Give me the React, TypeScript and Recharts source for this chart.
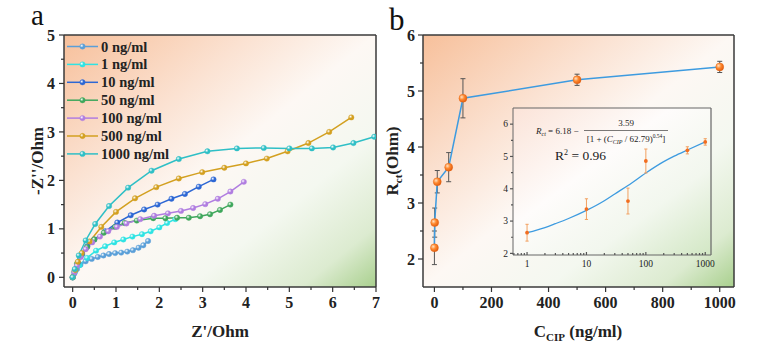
import React from 'react';
import { LineChart, Line, XAxis, YAxis, CartesianGrid, ErrorBar, ReferenceLine } from 'recharts';

const FONT = "'Liberation Serif', 'Times New Roman', serif";

// (a) Nyquist plots: [Z', -Z''] in Ohm
const seriesNames = ['0 ng/ml', '1 ng/ml', '10 ng/ml', '50 ng/ml', '100 ng/ml', '500 ng/ml', '1000 ng/ml'];
const seriesColors = ['#5a9fd8', '#2fe3e3', '#2d67d4', '#3fa75c', '#b07de0', '#d3a020', '#2fbfc6'];

const nyq0 = [[0, 0], [0.04, 0.08], [0.1, 0.17], [0.18, 0.26], [0.3, 0.33], [0.44, 0.38], [0.58, 0.42], [0.71, 0.45], [0.84, 0.48], [0.98, 0.5], [1.12, 0.51], [1.26, 0.53], [1.39, 0.56], [1.52, 0.61], [1.63, 0.66], [1.74, 0.75]];
const nyq1 = [[0, 0], [0.06, 0.12], [0.16, 0.25], [0.33, 0.4], [0.54, 0.55], [0.75, 0.64], [0.96, 0.72], [1.17, 0.78], [1.38, 0.84], [1.6, 0.89], [1.8, 0.95], [2.0, 1.03], [2.18, 1.12], [2.37, 1.2]];
const nyq10 = [[0, 0], [0.05, 0.15], [0.12, 0.3], [0.22, 0.48], [0.34, 0.64], [0.5, 0.78], [0.75, 0.95], [1.03, 1.13], [1.34, 1.28], [1.65, 1.4], [1.96, 1.5], [2.28, 1.62], [2.59, 1.72], [2.91, 1.87], [3.25, 2.02]];
const nyq50 = [[0, 0], [0.04, 0.12], [0.1, 0.28], [0.2, 0.46], [0.33, 0.62], [0.5, 0.78], [0.72, 0.92], [0.98, 1.04], [1.2, 1.12], [1.48, 1.17], [1.86, 1.22], [2.14, 1.22], [2.41, 1.23], [2.68, 1.23], [2.94, 1.26], [3.17, 1.3], [3.4, 1.39], [3.64, 1.5]];
const nyq100 = [[0, 0], [0.04, 0.1], [0.1, 0.24], [0.19, 0.42], [0.3, 0.58], [0.45, 0.72], [0.63, 0.84], [0.82, 0.95], [1.02, 1.04], [1.24, 1.11], [1.56, 1.2], [1.88, 1.27], [2.2, 1.32], [2.5, 1.37], [2.78, 1.43], [3.06, 1.51], [3.35, 1.62], [3.64, 1.77], [3.95, 1.97]];
const nyq500 = [[0, 0], [0.06, 0.15], [0.12, 0.32], [0.21, 0.5], [0.39, 0.74], [0.66, 1.04], [1.0, 1.35], [1.44, 1.63], [1.93, 1.86], [2.45, 2.04], [2.99, 2.17], [3.5, 2.26], [4.0, 2.35], [4.48, 2.45], [4.96, 2.6], [5.44, 2.77], [5.92, 3.0], [6.43, 3.3]];
const nyq1000 = [[0, 0], [0.05, 0.17], [0.14, 0.45], [0.3, 0.76], [0.52, 1.1], [0.84, 1.47], [1.28, 1.85], [1.82, 2.2], [2.45, 2.44], [3.11, 2.6], [3.79, 2.66], [4.41, 2.67], [5.0, 2.66], [5.52, 2.66], [6.01, 2.68], [6.48, 2.77], [6.96, 2.9]];
const nyquist = [nyq0, nyq1, nyq10, nyq50, nyq100, nyq500, nyq1000];

const zReTicks = [0, 0.5, 1, 1.5, 2, 2.5, 3, 3.5, 4, 4.5, 5, 5.5, 6, 6.5, 7];
const zReMajors = [0, 1, 2, 3, 4, 5, 6, 7];
const zImTicks = [0, 0.5, 1, 1.5, 2, 2.5, 3, 3.5, 4, 4.5, 5];
const zImMajors = [0, 1, 2, 3, 4, 5];
const zReDomain = [-0.2, 7];
const zImDomain = [-0.2, 5];

// (b) Rct vs CIP concentration
const cip = [0, 1, 10, 50, 100, 500, 1000];
const rct = [2.2, 2.65, 3.38, 3.64, 4.87, 5.2, 5.43];
const rctErr = [0.3, 0.26, 0.2, 0.26, 0.35, 0.1, 0.1];
const cipTicks = [0, 100, 200, 300, 400, 500, 600, 700, 800, 900, 1000];
const cipMajors = [0, 200, 400, 600, 800, 1000];
const rctTicks = [2, 2.5, 3, 3.5, 4, 4.5, 5, 5.5, 6];
const rctMajors = [2, 3, 4, 5, 6];
const cipDomain = [-40, 1050];
const rctDomain = [1.5, 6];

// inset: log scale with fitted curve
const insetConc = [1, 10, 50, 100, 500, 1000];
const insetR = [2.64, 3.37, 3.62, 4.86, 5.19, 5.45];
const insetErr = [0.26, 0.32, 0.4, 0.37, 0.11, 0.1];
const fitConc = [1, 2, 3, 5, 10, 20, 30, 50, 100, 200, 300, 500, 1000];
const fitR = [2.64, 2.8, 2.92, 3.08, 3.33, 3.63, 3.84, 4.1, 4.49, 4.84, 5.01, 5.2, 5.45];
const logTicks = [0.6, 0.7, 0.8, 0.9, 1, 2, 3, 4, 5, 6, 7, 8, 9, 10, 20, 30, 40, 50, 60, 70, 80, 90, 100, 200, 300, 400, 500, 600, 700, 800, 900, 1000];
const logMajors = [1, 10, 100, 1000];
const insetYTicks = [2, 2.5, 3, 3.5, 4, 4.5, 5, 5.5, 6];
const insetYMajors = [2, 3, 4, 5, 6];
const logDomain = [0.58, 1250];
const insetYDomain = [1.95, 6.5];

const bData = cip.map((c, i) => ({ c, r: rct[i], e: rctErr[i] }));
const insetData = insetConc.map((c, i) => ({ c, r: insetR[i], e: insetErr[i] }));
const fitData = fitConc.map((c, i) => ({ c, r: fitR[i] }));

type TickOpts = {
  side: 'bottom' | 'left';
  majors: number[];
  len: number;
  minorLen: number;
  gap: number;
  size: number;
  bold?: boolean;
  inward?: boolean;
  color: string;
};

function makeTick(o: TickOpts) {
  return (props: any) => {
    const { x, y, payload } = props;
    const v = payload.value;
    const major = o.majors.includes(v);
    const l = major ? o.len : o.minorLen;
    const s = o.inward ? -1 : 1;
    const txt = major ? String(v) : '';
    if (o.side === 'bottom') {
      return (
        <g>
          <line x1={x} x2={x} y1={y} y2={y + s * l} stroke={o.color} strokeWidth={1.2} />
          {txt && (
            <text x={x} y={y + o.gap} textAnchor="middle" fontSize={o.size} fontWeight={o.bold ? 700 : 400} fontFamily={FONT} fill="#222">
              {txt}
            </text>
          )}
        </g>
      );
    }
    return (
      <g>
        <line x1={x} x2={x - s * l} y1={y} y2={y} stroke={o.color} strokeWidth={1.2} />
        {txt && (
          <text x={x - o.gap} y={y} dy="0.35em" textAnchor="end" fontSize={o.size} fontWeight={o.bold ? 700 : 400} fontFamily={FONT} fill="#222">
            {txt}
          </text>
        )}
      </g>
    );
  };
}

const frame = { stroke: '#3a3a3a', strokeWidth: 1.5 };
const insetFrame = { stroke: '#666', strokeWidth: 1 };

export default function App() {
  return (
    <div style={{ position: 'absolute', left: 0, top: 0, width: 773, height: 356, background: '#fff', fontFamily: FONT }}>
      <svg width={0} height={0} style={{ position: 'absolute' }}>
        <defs>
          <linearGradient id="bgMain" x1="0" y1="0" x2="1" y2="1">
            <stop offset="0" stopColor="#f7c09b" />
            <stop offset="0.3" stopColor="#fbe2d2" />
            <stop offset="0.5" stopColor="#fdf8f4" />
            <stop offset="0.7" stopColor="#f4f8f0" />
            <stop offset="0.88" stopColor="#dcebd0" />
            <stop offset="1" stopColor="#a9d08e" />
          </linearGradient>
          <linearGradient id="bgInset" x1="0" y1="0" x2="1" y2="1">
            <stop offset="0" stopColor="#fbe3d8" />
            <stop offset="0.4" stopColor="#fefcfb" />
            <stop offset="0.7" stopColor="#f2f7ee" />
            <stop offset="1" stopColor="#d2e7c4" />
          </linearGradient>
          <radialGradient id="ballOrange" cx="35%" cy="35%" r="70%">
            <stop offset="0" stopColor="#ffe2c4" />
            <stop offset="0.45" stopColor="#ff8a30" />
            <stop offset="1" stopColor="#e25a0c" />
          </radialGradient>
          {seriesColors.map((c, i) => (
            <radialGradient key={i} id={`ball${i}`} cx="35%" cy="35%" r="70%">
              <stop offset="0" stopColor="#ffffff" />
              <stop offset="0.5" stopColor={c} />
              <stop offset="1" stopColor={c} />
            </radialGradient>
          ))}
        </defs>
      </svg>

      {/* panel a */}
      <div style={{ position: 'absolute', left: 0, top: 0 }}>
        <LineChart width={380} height={356} margin={{ top: 35, right: 4, bottom: 0, left: 0 }}>
          <CartesianGrid horizontal={false} vertical={false} fill="url(#bgMain)" stroke="none" />
          <XAxis
            type="number"
            dataKey="x"
            domain={zReDomain}
            allowDataOverflow
            ticks={zReTicks}
            interval={0}
            height={69}
            tickSize={0}
            tickMargin={0}
            tickLine={false}
            axisLine={frame}
            tick={makeTick({ side: 'bottom', majors: zReMajors, len: 5, minorLen: 3, gap: 21, size: 16, bold: true, color: '#333' })}
          />
          <YAxis
            type="number"
            domain={zImDomain}
            allowDataOverflow
            ticks={zImTicks}
            interval={0}
            width={64}
            tickSize={0}
            tickMargin={0}
            tickLine={false}
            axisLine={frame}
            tick={makeTick({ side: 'left', majors: zImMajors, len: 5, minorLen: 3, gap: 9, size: 16, bold: true, color: '#333' })}
          />
          <ReferenceLine y={zImDomain[1]} stroke="#3a3a3a" strokeWidth={1.5} ifOverflow="visible" />
          <ReferenceLine x={zReDomain[1]} stroke="#3a3a3a" strokeWidth={1.5} ifOverflow="visible" />
          {nyquist.map((pts, i) => (
            <Line
              key={seriesNames[i]}
              name={seriesNames[i]}
              data={pts.map(([x, y]) => ({ x, y }))}
              dataKey="y"
              type="linear"
              stroke={seriesColors[i]}
              strokeWidth={1.5}
              isAnimationActive={false}
              dot={(p: any) => <circle key={p.index} cx={p.cx} cy={p.cy} r={2.7} fill={`url(#ball${i})`} stroke={seriesColors[i]} strokeWidth={0.4} />}
              activeDot={false}
            />
          ))}
        </LineChart>
      </div>

      {/* panel b */}
      <div style={{ position: 'absolute', left: 380, top: 0 }}>
        <LineChart width={393} height={356} data={bData} margin={{ top: 35, right: 39, bottom: 0, left: 0 }}>
          <CartesianGrid horizontal={false} vertical={false} fill="url(#bgMain)" stroke="none" />
          <XAxis
            type="number"
            dataKey="c"
            domain={cipDomain}
            allowDataOverflow
            ticks={cipTicks}
            interval={0}
            height={69}
            tickSize={0}
            tickMargin={0}
            tickLine={false}
            axisLine={frame}
            tick={makeTick({ side: 'bottom', majors: cipMajors, len: 5, minorLen: 3, gap: 21, size: 16, bold: true, color: '#333' })}
          />
          <YAxis
            type="number"
            domain={rctDomain}
            allowDataOverflow
            ticks={rctTicks}
            interval={0}
            width={43}
            tickSize={0}
            tickMargin={0}
            tickLine={false}
            axisLine={frame}
            tick={makeTick({ side: 'left', majors: rctMajors, len: 5, minorLen: 3, gap: 8, size: 16, bold: true, color: '#333' })}
          />
          <ReferenceLine y={rctDomain[1]} stroke="#3a3a3a" strokeWidth={1.5} ifOverflow="visible" />
          <ReferenceLine x={cipDomain[1]} stroke="#3a3a3a" strokeWidth={1.5} ifOverflow="visible" />
          <Line
            dataKey="r"
            type="linear"
            stroke="#3d9be0"
            strokeWidth={1.5}
            isAnimationActive={false}
            activeDot={false}
            dot={(p: any) => <circle key={p.index} cx={p.cx} cy={p.cy} r={4} fill="url(#ballOrange)" stroke="#e0600f" strokeWidth={0.4} />}
          >
            <ErrorBar dataKey="e" direction="y" width={2.5} stroke="#555" strokeWidth={1} isAnimationActive={false} />
          </Line>
        </LineChart>
      </div>

      {/* inset */}
      <div style={{ position: 'absolute', left: 480, top: 100 }}>
        <LineChart width={240} height={180} margin={{ top: 8, right: 9, bottom: 0, left: 0 }}>
          <CartesianGrid horizontal={false} vertical={false} fill="url(#bgInset)" stroke="none" />
          <XAxis
            type="number"
            scale="log"
            dataKey="c"
            domain={logDomain}
            allowDataOverflow
            ticks={logTicks}
            interval={0}
            height={25}
            tickSize={0}
            tickMargin={0}
            tickLine={false}
            axisLine={insetFrame}
            tick={makeTick({ side: 'bottom', majors: logMajors, len: 3, minorLen: 2, gap: 11.5, size: 9.5, inward: true, color: '#555' })}
          />
          <YAxis
            type="number"
            domain={insetYDomain}
            allowDataOverflow
            ticks={insetYTicks}
            interval={0}
            width={33}
            tickSize={0}
            tickMargin={0}
            tickLine={false}
            axisLine={insetFrame}
            tick={makeTick({ side: 'left', majors: insetYMajors, len: 3, minorLen: 2, gap: 5, size: 9.5, color: '#555' })}
          />
          <ReferenceLine y={insetYDomain[1]} stroke="#666" strokeWidth={1.2} ifOverflow="visible" />
          <ReferenceLine x={logDomain[1]} stroke="#666" strokeWidth={1.2} ifOverflow="visible" />
          <Line data={fitData} dataKey="r" type="monotone" stroke="#3d9be0" strokeWidth={1.3} dot={false} activeDot={false} isAnimationActive={false} />
          <Line
            data={insetData}
            dataKey="r"
            stroke="none"
            isAnimationActive={false}
            activeDot={false}
            dot={(p: any) => <circle key={p.index} cx={p.cx} cy={p.cy} r={1.9} fill="#f26d1f" />}
          >
            <ErrorBar dataKey="e" direction="y" width={1.6} stroke="#f2a060" strokeWidth={1} isAnimationActive={false} />
          </Line>
        </LineChart>
      </div>

      {/* text overlay: panel letters, axis titles, legend, formula */}
      <svg width={773} height={356} style={{ position: 'absolute', left: 0, top: 0, pointerEvents: 'none' }} fontFamily={FONT}>
        <text x={31} y={25} fontSize={29} fill="#111">a</text>
        <text x={389} y={30} fontSize={31} fill="#111">b</text>

        <text transform="translate(43,161) rotate(-90)" textAnchor="middle" fontSize={17} fontWeight={700} fill="#222">-Z''/Ohm</text>
        <text x={220} y={337} textAnchor="middle" fontSize={17} fontWeight={700} fill="#222">Z'/Ohm</text>

        <text transform="translate(398,161) rotate(-90)" textAnchor="middle" fontSize={17} fontWeight={700} fill="#222">
          R<tspan fontSize={11} dy={4}>ct</tspan><tspan dy={-4}>(Ohm)</tspan>
        </text>
        <text x={578} y={337} textAnchor="middle" fontSize={17} fontWeight={700} fill="#222">
          C<tspan fontSize={11} dy={4}>CIP</tspan><tspan dy={-4}> (ng/ml)</tspan>
        </text>

        {seriesNames.map((n, i) => {
          const cy = 46.5 + i * 17.9;
          return (
            <g key={n}>
              <line x1={67} x2={98} y1={cy} y2={cy} stroke={seriesColors[i]} strokeWidth={1.5} />
              <circle cx={82.5} cy={cy} r={2.7} fill={`url(#ball${i})`} stroke={seriesColors[i]} strokeWidth={0.4} />
              <text x={101} y={cy + 5} fontSize={14.5} fontWeight={700} fill="#222">{n}</text>
            </g>
          );
        })}

        <text x={536} y={134} fontSize={9} fill="#222">
          <tspan fontStyle="italic">R</tspan>
          <tspan fontStyle="italic" fontSize={6} dy={2}>ct</tspan>
          <tspan dy={-2}> = 6.18 − </tspan>
        </text>
        <text x={626} y={126} fontSize={9} textAnchor="middle" fill="#222">3.59</text>
        <line x1={584} x2={668} y1={130.5} y2={130.5} stroke="#222" strokeWidth={0.6} />
        <text x={626} y={141.5} fontSize={9} textAnchor="middle" fill="#222">
          [1 + (<tspan fontStyle="italic">C</tspan>
          <tspan fontStyle="italic" fontSize={6} dy={2}>CIP</tspan>
          <tspan dy={-2}> / 62.79)</tspan>
          <tspan fontSize={5.5} dy={-3.5}>0.54</tspan>
          <tspan dy={3.5}>]</tspan>
        </text>
        <text x={555} y={160} fontSize={13.5} fill="#222">
          R<tspan fontSize={8} dy={-5}>2</tspan><tspan dy={5}> = 0.96</tspan>
        </text>
      </svg>
    </div>
  );
}
